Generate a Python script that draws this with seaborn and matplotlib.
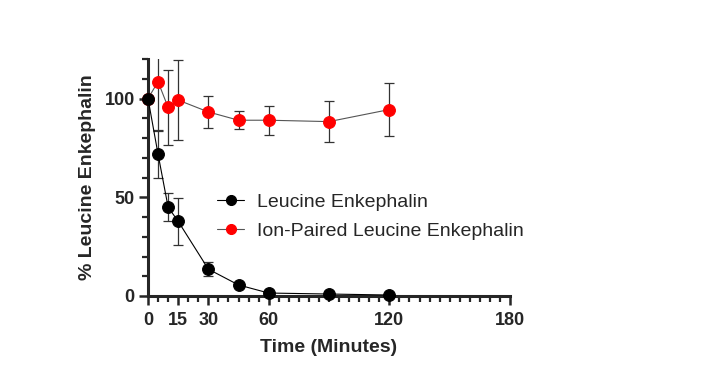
import numpy as np
import pandas as pd
import matplotlib
matplotlib.use("Agg")
import matplotlib.pyplot as plt
from matplotlib.ticker import MultipleLocator, FixedLocator
import seaborn as sns

# data
time_min = [0, 5, 10, 15, 30, 45, 60, 90, 120]
leu_mean = [100, 71.8, 45.0, 37.8, 13.6, 5.6, 1.5, 1.0, 0.5]
leu_sd   = [0, 12.0, 7.2, 11.8, 3.4, 1.0, 0.5, 0.3, 0.2]
ion_mean = [100, 108.5, 95.5, 99.2, 93.2, 89.0, 89.0, 88.3, 94.4]
ion_sd   = [0, 25.0, 19.0, 20.3, 8.3, 4.5, 7.3, 10.5, 13.5]

labels = ["Leucine Enkephalin", "Ion-Paired Leucine Enkephalin"]

sns.set_style("ticks")
plt.rcParams['font.family'] = ['Liberation Sans', 'DejaVu Sans']

df = pd.DataFrame({
    "time": time_min * 2,
    "pct": leu_mean + ion_mean,
    "sd": leu_sd + ion_sd,
    "group": [labels[0]] * len(time_min) + [labels[1]] * len(time_min),
})

fig = plt.figure(figsize=(7.02, 3.92), dpi=100)
ax = fig.add_axes([148 / 702, 96 / 392, 362 / 702, 237 / 392])

# draw red series first so black sits on top at t=0
order = [labels[1], labels[0]]
face = {labels[0]: "black", labels[1]: "#ff0000"}
linec = {labels[0]: "black", labels[1]: "#555555"}
for g in order:
    sub = df[df["group"] == g]
    ax.errorbar(sub["time"], sub["pct"], yerr=sub["sd"], fmt="none",
                ecolor="#333333", elinewidth=0.9, capsize=3.6, capthick=0.9,
                zorder=2)
    sns.lineplot(data=sub, x="time", y="pct", ax=ax, color=linec[g],
                 linewidth=0.8, marker="o", markersize=8.5,
                 markerfacecolor=face[g], markeredgecolor=face[g],
                 clip_on=False, zorder=3, label=g, errorbar=None)

ax.set_xlim(0, 180)
ax.set_ylim(0, 120)
ax.xaxis.set_major_locator(FixedLocator([0, 15, 30, 60, 120, 180]))
ax.xaxis.set_minor_locator(MultipleLocator(5))
ax.yaxis.set_major_locator(FixedLocator([0, 50, 100]))
ax.yaxis.set_minor_locator(MultipleLocator(10))

sns.despine(ax=ax)
for s in ["left", "bottom"]:
    ax.spines[s].set_linewidth(2.2)
ax.tick_params(which="major", length=6.5, width=1.8, labelsize=13)
ax.tick_params(axis="x", which="major", pad=5)
ax.tick_params(axis="y", which="major", pad=3)
ax.tick_params(which="minor", length=4, width=1.6)
for t in ax.get_xticklabels() + ax.get_yticklabels():
    t.set_fontweight("bold")

ax.set_xlabel("Time (Minutes)", fontsize=14, fontweight="bold", labelpad=7)
ax.set_ylabel("% Leucine Enkephalin", fontsize=14, fontweight="bold", labelpad=6)

handles, labs = ax.get_legend_handles_labels()
hmap = dict(zip(labs, handles))
leg = fig.legend([hmap[labels[0]], hmap[labels[1]]], labels,
                 loc="center left", bbox_to_anchor=(217 / 702, 1 - 216.7 / 392),
                 frameon=False, fontsize=14, borderpad=0, borderaxespad=0,
                 handlelength=1.4, handletextpad=0.65, labelspacing=0.6,
                 markerscale=0.85)
if ax.get_legend():
    ax.get_legend().remove()

fig.savefig("out.png", dpi=100)
